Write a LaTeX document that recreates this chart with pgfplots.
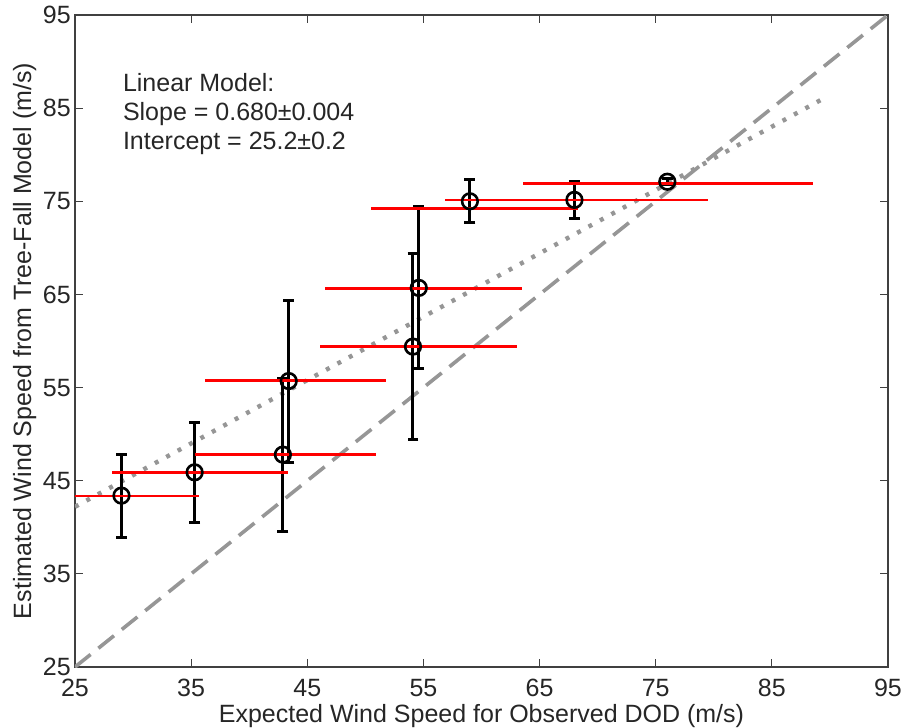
\documentclass[border=0pt]{standalone}
\usepackage{fontspec}
\setmainfont{Liberation Sans}
\usepackage{pgfplots}
\pgfplotsset{compat=1.18}
\definecolor{fitgray}{RGB}{150,150,150}

\begin{document}
\fontsize{12.5}{14.5}\selectfont
\begin{tikzpicture}
\begin{axis}[
  scale only axis, width=406.5pt, height=326pt,
  xmin=25, xmax=95, ymin=25, ymax=95,
  xtick={25,35,...,95}, ytick={25,35,...,95},
  tick align=inside, major tick length=4pt,
  axis line style={black!75, line width=0.7pt},
  tick style={black!75, line width=0.6pt},
  /pgf/number format/assume math mode=true,
  tick label style={font=\fontsize{12.5}{14}\selectfont, text=black!85},
  xticklabel style={yshift=-1.8pt},
  yticklabel style={xshift=2.2pt},
  xlabel={Expected Wind Speed for Observed DOD (m/s)},
  ylabel={Estimated Wind Speed from Tree-Fall Model (m/s)},
  label style={font=\fontsize{12.5}{14}\selectfont, text=black!85},
  xlabel style={at={(axis description cs:0.5,-0.0844)}, anchor=base},
  ylabel style={at={(axis description cs:-0.0541,0.5)}, anchor=base},
]
\coordinate (sw) at (rel axis cs:0,0);

% one-to-one line and linear fit
\addplot[fitgray, line width=1.8pt, dash pattern=on 10pt off 5pt] coordinates {(25,25) (95,95)};
\addplot[fitgray, line width=2.2pt, dash pattern=on 2pt off 4.5pt] coordinates {(25,42.2) (89.4,86.0)};

% tree-fall estimates with vertical error bars
\addplot[black, only marks, mark=o, mark size=3.9pt, mark options={line width=1.3pt},
  error bars/.cd, y dir=both, y explicit,
  error bar style={line width=1.5pt},
  error mark options={rotate=90, line width=1.5pt, mark size=2.7pt}]
  table[x=x, y=y, y error=ey] {
  x     y      ey
  29.0  43.4   4.45
  35.3  45.9   5.35
  42.9  47.8   8.2
  43.4  55.7   8.7
  54.1  59.4   10.0
  54.6  65.7   8.7
  59.0  75.0   2.33
  68.0  75.15  1.95
  76.0  77.1   0.3
};

% expected wind speed ranges (horizontal bars)
\addplot[draw=none, mark=none,
  error bars/.cd, x dir=both, x explicit, error mark=none,
  error bar style={draw=red, line width=1.3pt}]
  table[x=x, y=y, x error=ex] {
  x      y      ex
  28.9   43.36  6.8
  35.77  45.9   7.6
  43.1   47.83  7.8
  44.0   55.74  7.8
  54.57  59.39  8.47
  55.0   65.65  8.47
  59.4   74.25  8.9
  68.2   75.14  11.3
  76.06  76.93  12.5
};

\node[anchor=north west, align=left, inner sep=0pt, text=black!85,
  font=\fontsize{12.5}{14.5}\selectfont]
  at (axis cs:29.1,88.8) {Linear Model:\\Slope = 0.680±0.004\\Intercept = 25.2±0.2};
\end{axis}
\pgfresetboundingbox
\path[use as bounding box] (sw) ++(-37.5pt,-30.5pt) rectangle ++(452.5pt,364pt);
\end{tikzpicture}
\end{document}
